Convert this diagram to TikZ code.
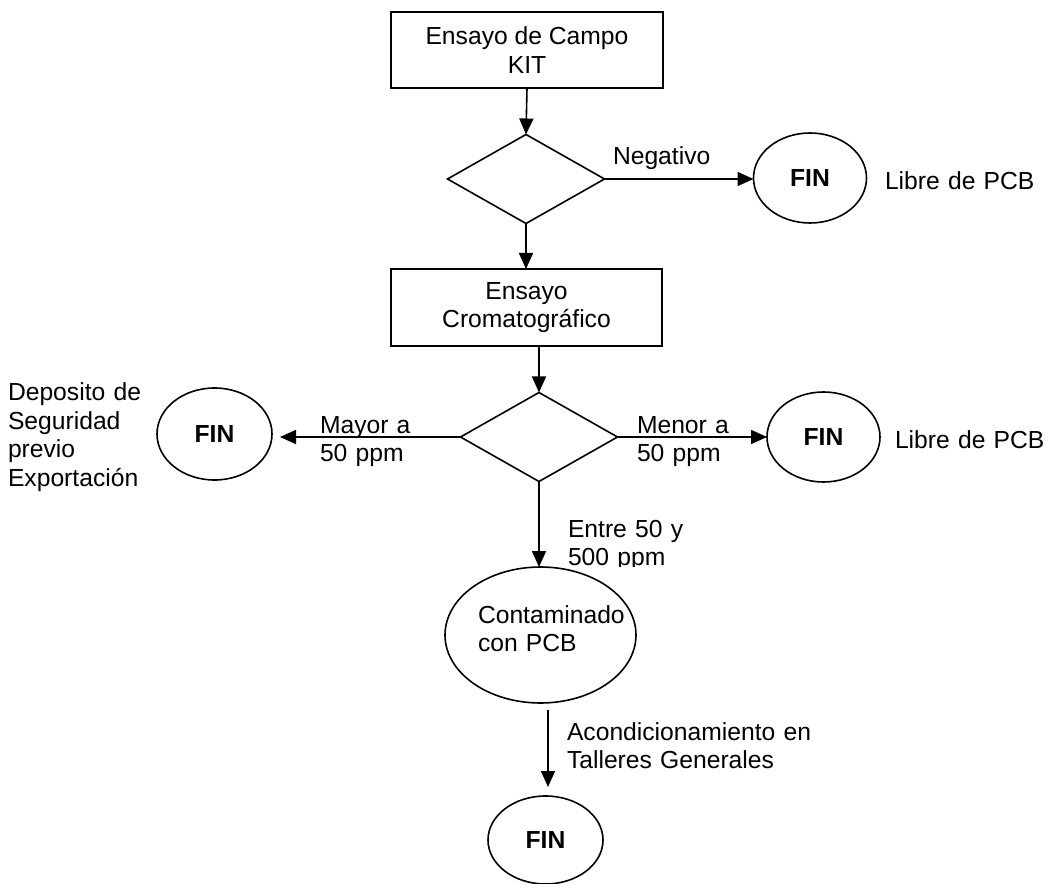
\documentclass[tikz,border=0pt]{standalone}
\usepackage{fontspec}
\setmainfont{Liberation Sans}
\usetikzlibrary{shapes.geometric,arrows.meta,calc}
\begin{document}
\begin{tikzpicture}[x=0.75pt,y=-0.75pt,
  font=\fontsize{18.5}{21.3}\selectfont,
  line width=1.2pt,
  arr/.style={-{Triangle[length=12pt,width=10.5pt]}},
  boxnode/.style={draw,rectangle,inner sep=0pt,outer sep=0pt,align=center},
  decision/.style={draw,diamond,minimum width=117.75pt,minimum height=66.75pt,inner sep=0pt,outer sep=0pt},
  endnode/.style={draw,ellipse,inner sep=0pt,outer sep=0pt,font=\fontsize{18.5}{21.3}\selectfont\bfseries},
  lbl/.style={anchor=base west,inner sep=0pt,outer sep=0pt,align=left,text width=200pt},
]
\useasboundingbox (0,0) rectangle (1050,884);

% main column
\node[boxnode,minimum width=204pt,minimum height=57pt] (b1) at (527,50) {Ensayo de Campo\\KIT};
\node[decision] (d1) at (526,179) {};
\node[endnode,minimum width=84.75pt,minimum height=67.5pt] (f1) at (810,178) {FIN};
\node[boxnode,minimum width=203.25pt,minimum height=57.75pt] (b2) at (526.5,307.5) {Ensayo\\Cromatográfico};
\node[decision] (d2) at (539,437) {};
\node[endnode,minimum width=86.25pt,minimum height=69pt] (f2) at (214.5,434) {FIN};
\node[endnode,minimum width=84.75pt,minimum height=67.5pt] (f3) at (823.5,437) {FIN};
\node[draw,ellipse,inner sep=0pt,outer sep=0pt,minimum width=143.25pt,minimum height=102pt] (c) at (540.5,635) {};
\node[endnode,minimum width=86.25pt,minimum height=66pt] (f4) at (545.5,840) {FIN};

% labels
\node[lbl] (lneg) at (613,165) {Negativo};
\node[lbl] (llib1) at (885,190) {Libre de PCB};
\node[lbl] (llib2) at (895,448) {Libre de PCB};
\node[lbl] (lmay) at (320,433) {Mayor a\\50 ppm};
\node[lbl] (lmen) at (637,433) {Menor a\\50 ppm};
\node[lbl,text width=150pt] (ldep) at (8,401) {Deposito de\\Seguridad\\previo\\Exportación};
\begin{scope}
  \clip (560,500) rectangle (720,566);
  \node[lbl] (lent) at (568,537) {Entre 50 y\\500 ppm};
\end{scope}
\node[lbl,text width=150pt] (lcon) at (478,623) {Contaminado\\con PCB};
\node[lbl,text width=250pt] (lacon) at (567,740) {Acondicionamiento en\\Talleres Generales};

% connectors
\draw[arr] (b1.south) -- (d1.north);
\draw[arr] (d1.east) -- (d1.east -| f1.west);
\draw[arr] (d1.south) -- (b2.north -| d1.south);
\draw[arr] (b2.south -| d2.north) -- (d2.north);
\draw[arr] (d2.west) -- ($(d2.west -| f2.east)+(8,0)$);
\draw[arr] (d2.east) -- (d2.east -| f3.west);
\draw[arr] (d2.south) -- (d2.south |- c.north);
\coordinate (a4) at ($(f4.north)+(2.5,-9)$);
\draw[arr] ($(c.south -| a4)+(0,7)$) -- (a4);
\end{tikzpicture}
\end{document}
